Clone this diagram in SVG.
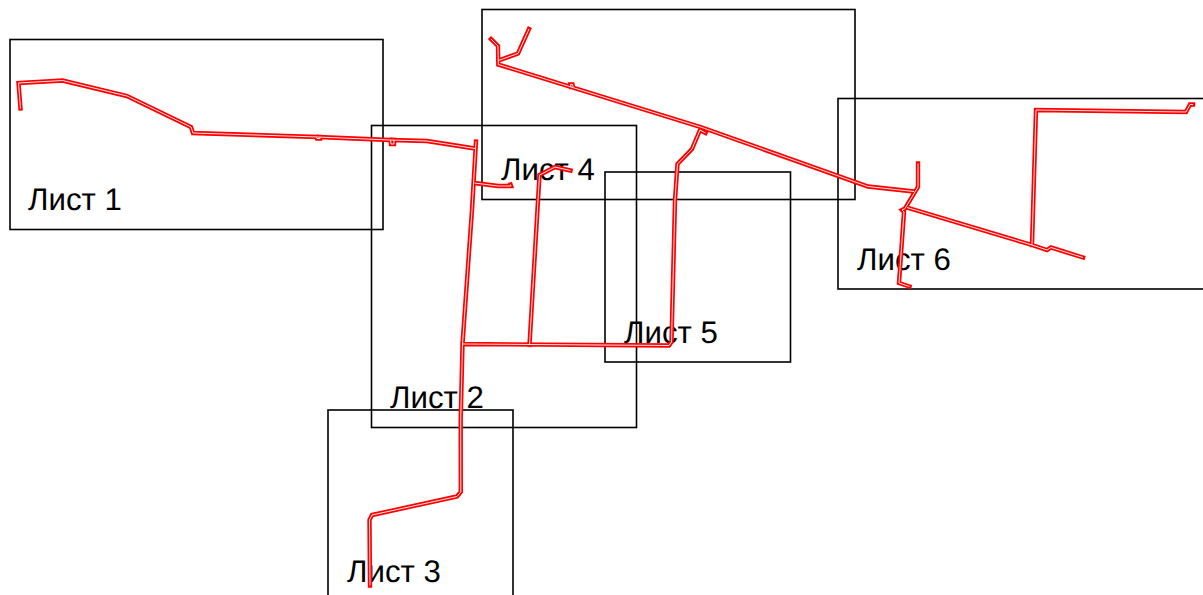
<svg xmlns="http://www.w3.org/2000/svg" width="1203" height="595" viewBox="0 0 1203 595">
<style>
.s{fill:none;stroke:#000;stroke-width:1.6}
text{font-family:"Liberation Sans",Arial,sans-serif;font-size:31.2px;fill:#000;text-rendering:geometricPrecision}
.o,.i{fill:none;stroke-linejoin:miter}
.o{stroke:#f00;stroke-width:4.4;stroke-linecap:square}
.i{stroke:#fff;stroke-width:1;stroke-opacity:.9}
</style>
<defs>
<path id="p" d="M20.500 108.500L18.500 83L62.500 80.500L127 96L191 127L193 133L318 137L390 140L427 141L475 148.500M476 141.500L472 210L462.500 344L460.700 420L460.800 492L457 496.500L372 515L369.500 520L370 585.500M474.500 183L498 186L511 186L510.500 184.500M462.500 344L669 345.500L671.500 342L675 200L677.500 164L692 149L700 130L705.500 133M529.500 345L539.500 175L555 167L570.500 170.500M491 39L498 46L498.300 64.500L702 127.500L868 186.500L914 191.500M498.500 60.500L518 53.500L529 29M918 163.500L918 187L905 208.500L902 210L904 212L899 283L909.500 286.500M907 207.500L1032 245L1047 250L1051 247.500L1083 257.500M1032 245L1036 110L1186 112L1190 104.500L1193 104.500M571 87L570.500 84.500L572.500 84.500L573 87M316.500 137L317 138.500L320 138.500L320 137M390.500 140L391 144L394 144L394 140"/>
</defs>
<g id="sheet-1"><rect class="s" x="10" y="39.500" width="373" height="190"/><text x="28" y="210">Лист 1</text></g>
<g id="sheet-2"><rect class="s" x="371.500" y="125.500" width="265" height="302"/><text x="390" y="408">Лист 2</text></g>
<g id="sheet-3"><rect class="s" x="328" y="410" width="185" height="195"/><text x="347" y="582">Лист 3</text></g>
<g id="sheet-4"><rect class="s" x="482" y="9.500" width="373" height="190"/><text x="501" y="180">Лист 4</text></g>
<g id="sheet-5"><rect class="s" x="605" y="172" width="185.500" height="190"/><text x="624" y="343">Лист 5</text></g>
<g id="sheet-6"><rect class="s" x="838" y="98.500" width="373" height="190.500"/><text x="857" y="270">Лист 6</text></g>
<g id="connectors"><use href="#p" class="o"/><use href="#p" class="i"/></g>
</svg>
